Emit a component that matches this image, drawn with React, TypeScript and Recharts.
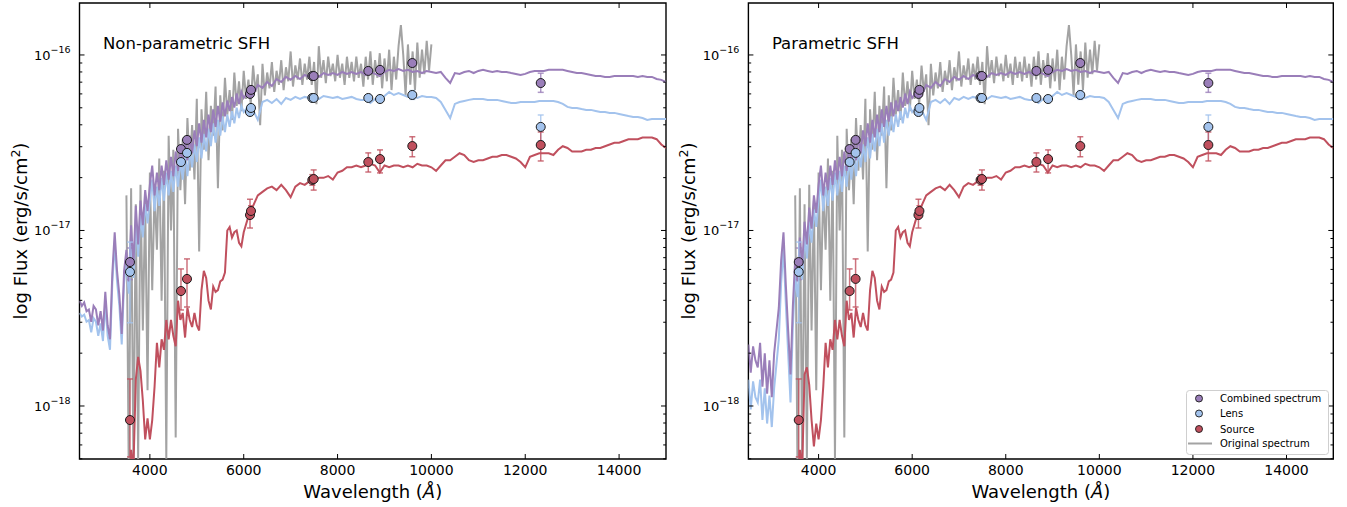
import React from "react";
import {
  ComposedChart,
  Line,
  Scatter,
  XAxis,
  YAxis,
  ErrorBar,
  ReferenceArea,
  Label,
  Legend,
} from "recharts";

const FONT = "'DejaVu Sans', sans-serif";
const COMBINED = "#9a7eb9";
const LENS = "#a3c3ed";
const SOURCE = "#c0505e";
const ORIGINAL = "#a3a3a3";

const X_MIN = 2500;
const X_MAX = 15000;
const Y_MIN = -18.302;
const Y_MAX = -15.704;
const H = 507;
const TOP = 3;
const XAXIS_H = 48;
const YAXIS_W = 70;

// model wavelength grid (Angstrom)
const uvWave = [
  2500, 2550, 2600, 2650, 2700, 2750, 2800, 2850, 2900, 2950,
  3000, 3050, 3100, 3150, 3200, 3250, 3300, 3350, 3400, 3450,
  3500, 3550, 3600, 3650, 3700, 3750, 3800, 3850, 3900, 3950,
];
const optWave = [
  4000, 4050, 4100, 4150, 4200, 4250, 4300, 4350, 4400, 4450,
  4500, 4550, 4600, 4650, 4700, 4750, 4800, 4850, 4900, 4950,
  5000, 5050, 5100, 5150, 5200, 5250, 5300, 5350, 5400, 5450,
  5500, 5550, 5600, 5650, 5700, 5750, 5800, 5850, 5900, 5950,
  6000, 6100, 6200, 6300, 6400, 6500, 6600, 6700, 6800, 6900,
  7000, 7100, 7200, 7300, 7400, 7500, 7600, 7700, 7800, 7900,
  8000, 8100, 8200, 8300, 8400, 8500, 8600, 8700, 8800, 8900,
  9000, 9100, 9200, 9300, 9400, 9500, 9600, 9700, 9800, 9900,
  10000, 10100, 10200, 10300, 10400, 10500, 10600, 10700, 10800, 10900,
  11000, 11100, 11200, 11300, 11400, 11500, 11600, 11700, 11800, 11900,
  12000, 12100, 12200, 12300, 12400, 12500, 12600, 12700, 12800, 12900,
  13000, 13100, 13200, 13300, 13400, 13500, 13600, 13700, 13800, 13900,
  14000, 14100, 14200, 14300, 14400, 14500, 14600, 14700, 14800, 14900,
  15000,
];
const obsWave = [
  3500, 3550, 3600, 3650, 3700, 3750, 3800, 3850, 3900, 3950,
  4000, 4050, 4100, 4150, 4200, 4250, 4300, 4350, 4400, 4450,
  4500, 4550, 4600, 4650, 4700, 4750, 4800, 4850, 4900, 4950,
  5000, 5050, 5100, 5150, 5200, 5250, 5300, 5350, 5400, 5450,
  5500, 5550, 5600, 5650, 5700, 5750, 5800, 5850, 5900, 5950,
  6000, 6050, 6100, 6150, 6200, 6250, 6300, 6350, 6400, 6450,
  6500, 6550, 6600, 6650, 6700, 6750, 6800, 6850, 6900, 6950,
  7000, 7050, 7100, 7150, 7200, 7250, 7300, 7350, 7400, 7450,
  7500, 7550, 7600, 7650, 7700, 7750, 7800, 7850, 7900, 7950,
  8000, 8050, 8100, 8150, 8200, 8250, 8300, 8350, 8400, 8450,
  8500, 8550, 8600, 8650, 8700, 8750, 8800, 8850, 8900, 8950,
  9000, 9050, 9100, 9150, 9200, 9250, 9300, 9350, 9400, 9450,
  9500, 9550, 9600, 9650, 9700, 9750, 9800, 9850, 9900, 9950,
  10000,
];

// log10 flux, blue end differs between the two fits
const nonParamCombinedUV = [
  -17.40, -17.43, -17.41, -17.46, -17.45, -17.52, -17.43, -17.45, -17.54, -17.46,
  -17.57, -17.35, -17.54, -17.62, -17.24, -17.01, -17.23, -17.37, -17.59, -17.23,
  -17.11, -17.29, -16.97, -17.20, -16.86, -17.08, -16.83, -16.97, -16.77, -16.89,
];
const nonParamLensUV = [
  -17.47, -17.49, -17.48, -17.52, -17.51, -17.58, -17.50, -17.52, -17.60, -17.53,
  -17.63, -17.42, -17.60, -17.68, -17.30, -17.07, -17.29, -17.43, -17.65, -17.30,
  -17.18, -17.36, -17.05, -17.27, -16.94, -17.15, -16.91, -17.04, -16.85, -16.96,
];
const nonParamSourceUV = [
  -18.6, -18.6, -18.6, -18.6, -18.6, -18.6, -18.6, -18.6, -18.6, -18.6,
  -18.6, -18.6, -18.6, -18.6, -18.6, -18.6, -18.6, -18.6, -18.6, -18.6,
  -18.6, -18.5, -18.25, -18.35, -17.85, -17.72, -17.80, -17.97, -18.19, -18.07,
];
const paramCombinedUV = [
  -17.65, -17.81, -17.66, -17.74, -17.78, -17.64, -17.89, -17.70, -17.93, -17.74,
  -17.95, -17.70, -17.57, -17.44, -17.17, -17.01, -17.31, -17.57, -17.82, -17.43,
  -17.16, -17.29, -17.04, -17.20, -16.95, -17.08, -16.87, -16.99, -16.80, -16.90,
];
const paramLensUV = [
  -17.85, -18.02, -17.86, -17.95, -17.98, -17.85, -18.08, -17.90, -18.10, -17.94,
  -18.12, -17.90, -17.76, -17.62, -17.30, -17.10, -17.42, -17.70, -17.98, -17.55,
  -17.26, -17.38, -17.12, -17.28, -17.03, -17.16, -16.95, -17.07, -16.88, -16.98,
];
const paramSourceUV = [
  -18.6, -18.6, -18.6, -18.6, -18.6, -18.6, -18.6, -18.6, -18.6, -18.6,
  -18.6, -18.6, -18.6, -18.6, -18.6, -18.6, -18.6, -18.6, -18.6, -18.6,
  -18.6, -18.5, -18.25, -18.35, -17.82, -17.78, -17.88, -18.08, -18.23, -18.10,
];

// log10 flux from 4000 A redwards (same in both fits)
const combinedOpt = [
  -16.74, -16.63, -16.80, -16.67, -16.77, -16.63, -16.74, -16.60, -16.71, -16.58,
  -16.69, -16.55, -16.66, -16.52, -16.63, -16.48, -16.60, -16.46, -16.56, -16.43,
  -16.52, -16.39, -16.50, -16.37, -16.47, -16.34, -16.44, -16.31, -16.41, -16.29,
  -16.38, -16.27, -16.35, -16.26, -16.32, -16.24, -16.30, -16.22, -16.28, -16.21,
  -16.245, -16.211, -16.228, -16.171, -16.188, -16.154, -16.177, -16.137, -16.154, -16.125,
  -16.142, -16.120, -16.137, -16.114, -16.125, -16.108, -16.125, -16.103, -16.114, -16.103,
  -16.114, -16.097, -16.108, -16.097, -16.108, -16.097, -16.114, -16.097, -16.108, -16.120,
  -16.097, -16.085, -16.091, -16.080, -16.091, -16.085, -16.097, -16.091, -16.103, -16.091,
  -16.097, -16.103, -16.097, -16.131, -16.160, -16.103, -16.108, -16.097, -16.091, -16.103,
  -16.091, -16.085, -16.091, -16.097, -16.091, -16.097, -16.097, -16.103, -16.108, -16.114,
  -16.108, -16.097, -16.091, -16.091, -16.091, -16.085, -16.085, -16.085, -16.085, -16.091,
  -16.097, -16.103, -16.103, -16.108, -16.114, -16.120, -16.120, -16.125, -16.125, -16.120,
  -16.120, -16.120, -16.120, -16.120, -16.125, -16.120, -16.125, -16.125, -16.137, -16.142,
  -16.154,
];
const lensOpt = [
  -16.83, -16.71, -16.89, -16.75, -16.86, -16.70, -16.83, -16.67, -16.80, -16.66,
  -16.78, -16.63, -16.75, -16.60, -16.71, -16.56, -16.69, -16.54, -16.64, -16.51,
  -16.61, -16.47, -16.59, -16.45, -16.55, -16.42, -16.52, -16.39, -16.50, -16.37,
  -16.46, -16.35, -16.44, -16.34, -16.41, -16.32, -16.39, -16.30, -16.36, -16.29,
  -16.325, -16.291, -16.313, -16.370, -16.268, -16.256, -16.274, -16.251, -16.279, -16.245,
  -16.256, -16.239, -16.251, -16.239, -16.245, -16.239, -16.251, -16.234, -16.239, -16.245,
  -16.239, -16.251, -16.245, -16.239, -16.251, -16.256, -16.256, -16.274, -16.251, -16.256,
  -16.234, -16.211, -16.228, -16.217, -16.228, -16.239, -16.234, -16.245, -16.234, -16.239,
  -16.239, -16.245, -16.268, -16.313, -16.359, -16.279, -16.268, -16.262, -16.256, -16.251,
  -16.251, -16.251, -16.256, -16.256, -16.256, -16.262, -16.268, -16.274, -16.274, -16.268,
  -16.268, -16.268, -16.268, -16.262, -16.262, -16.262, -16.262, -16.268, -16.279, -16.296,
  -16.302, -16.302, -16.308, -16.313, -16.313, -16.319, -16.325, -16.325, -16.330, -16.330,
  -16.336, -16.342, -16.348, -16.353, -16.353, -16.359, -16.370, -16.365, -16.365, -16.365,
  -16.365,
];
const sourceOpt = [
  -18.19, -18.08, -17.89, -17.64, -17.78, -17.62, -17.68, -17.51, -17.62, -17.51,
  -17.60, -17.66, -17.40, -17.51, -17.47, -17.61, -17.44, -17.51, -17.55, -17.47,
  -17.54, -17.57, -17.34, -17.23, -17.27, -17.40, -17.45, -17.32, -17.35, -17.34,
  -17.29, -17.28, -17.24, -17.00, -16.98, -17.04, -17.01, -17.00, -17.07, -17.09,
  -17.01, -16.92, -16.86, -16.80, -16.78, -16.76, -16.75, -16.77, -16.74, -16.77,
  -16.81, -16.75, -16.73, -16.74, -16.72, -16.72, -16.70, -16.70, -16.69, -16.71,
  -16.67, -16.66, -16.64, -16.64, -16.63, -16.64, -16.63, -16.62, -16.63, -16.67,
  -16.63, -16.64, -16.63, -16.63, -16.64, -16.63, -16.64, -16.62, -16.63, -16.63,
  -16.64, -16.66, -16.63, -16.60, -16.60, -16.58, -16.56, -16.57, -16.60, -16.61,
  -16.60, -16.60, -16.59, -16.58, -16.58, -16.57, -16.57, -16.58, -16.59, -16.61,
  -16.64, -16.58, -16.57, -16.56, -16.56, -16.56, -16.57, -16.54, -16.52, -16.53,
  -16.55, -16.55, -16.55, -16.54, -16.54, -16.53, -16.53, -16.52, -16.51, -16.50,
  -16.50, -16.49, -16.48, -16.48, -16.48, -16.47, -16.47, -16.47, -16.48, -16.51,
  -16.53,
];
const originalFlux = [
  -16.80, -18.39, -16.76, -18.36, -16.85, -18.31, -16.74, -17.57, -16.83, -17.91,
  -16.67, -17.34, -16.77, -17.11, -16.59, -17.40, -16.66, -18.30, -16.46, -17.00,
  -16.54, -18.18, -16.42, -16.77, -16.48, -16.85, -16.36, -16.66, -16.40, -16.71,
  -16.25, -17.12, -16.31, -16.54, -16.21, -16.60, -16.29, -16.46, -16.18, -16.76,
  -16.23, -16.43, -16.13, -16.34, -16.20, -16.37, -16.10, -16.29, -16.15, -16.32,
  -16.09, -16.25, -16.14, -16.28, -16.06, -16.21, -16.11, -16.40, -16.05, -16.23,
  -16.10, -16.19, -16.04, -16.21, -16.09, -16.17, -16.03, -16.20, -16.07, -16.15,
  -15.98, -16.18, -16.06, -16.14, -16.02, -16.17, -16.05, -16.14, -16.01, -16.17,
  -16.04, -16.28, -15.95, -16.13, -16.03, -16.16, -16.01, -16.12, -16.05, -16.15,
  -16.00, -16.13, -16.05, -16.17, -16.01, -16.13, -16.04, -16.15, -16.01, -16.13,
  -16.05, -16.18, -16.01, -16.14, -15.98, -16.17, -16.03, -16.13, -15.99, -16.19,
  -16.02, -16.15, -15.97, -16.20, -16.01, -16.14, -15.95, -15.83, -16.00, -16.23,
  -15.94, -16.17, -15.98, -16.20, -15.93, -16.13, -15.97, -16.11, -15.92, -16.09,
  -15.94,
];

// photometry
const photWave = [3576, 4663, 4791, 6134, 6155, 7462, 7491, 8655, 8905, 9593, 12330];
const combinedPhot = [-17.18, -16.536, -16.484, -16.222, -16.199, -16.12, -16.12, -16.091, -16.085, -16.046, -16.16];
const combinedErrLo = [0.10, 0.015, 0.015, 0.015, 0.015, 0.012, 0.012, 0.012, 0.012, 0.02, 0.053];
const combinedErrHi = [0.08, 0.015, 0.015, 0.015, 0.015, 0.012, 0.012, 0.012, 0.012, 0.02, 0.056];
const lensPhot = [-17.236, -16.61, -16.558, -16.325, -16.302, -16.245, -16.245, -16.245, -16.251, -16.228, -16.41];
const lensErrLo = [0.29, 0.015, 0.015, 0.015, 0.015, 0.015, 0.015, 0.015, 0.015, 0.025, 0.08];
const lensErrHi = [0.17, 0.015, 0.015, 0.015, 0.015, 0.015, 0.015, 0.015, 0.015, 0.025, 0.068];
const sourcePhot = [-18.08, -17.345, -17.276, -16.912, -16.889, -16.712, -16.707, -16.61, -16.593, -16.519, -16.513];
const sourceErrLo = [0.21, 0.108, 0.16, 0.074, 0.03, 0.03, 0.063, 0.057, 0.079, 0.061, 0.091];
const sourceErrHi = [0.234, 0.126, 0.114, 0.09, 0.03, 0.03, 0.052, 0.052, 0.052, 0.053, 0.074];

const xTicks = [4000, 6000, 8000, 10000, 12000, 14000];
const decades = [-19, -18, -17, -16];
const yTicks = decades
  .flatMap((n) => [1, 2, 3, 4, 5, 6, 7, 8, 9].map((k) => n + Math.log10(k)))
  .filter((t) => t >= Y_MIN && t <= Y_MAX);

const legendNames = ["Combined spectrum", "Lens", "Source", "Original spectrum"];
const legendColors = [COMBINED, LENS, SOURCE, ORIGINAL];

const pairs = (xs: number[], ys: number[]) => xs.map((wl, i) => ({ wl, v: ys[i] }));
const phot = (ys: number[], lo: number[], hi: number[]) =>
  photWave.map((wl, i) => ({ wl, v: ys[i], err: [lo[i], hi[i]] }));

const dot = (fill: string) => (p: any) => (
  <circle cx={p.cx} cy={p.cy} r={4.5} fill={fill} stroke="#1a1a1a" strokeWidth={1} />
);

const makeXTick = (plotH: number) => (p: any) => {
  const edge = p.y - 4;
  return (
    <g>
      <line x1={p.x} x2={p.x} y1={edge} y2={edge - 5} stroke="#000" />
      <line x1={p.x} x2={p.x} y1={edge - plotH} y2={edge - plotH + 5} stroke="#000" />
      <text x={p.x} y={edge + 16} textAnchor="middle" fontSize={14} fontFamily={FONT} fill="#000">
        {p.payload.value}
      </text>
    </g>
  );
};

const makeYTick = (plotW: number) => (p: any) => {
  const v = p.payload.value;
  const edge = p.x + 9;
  const major = Math.abs(v - Math.round(v)) < 1e-6;
  const len = major ? 5 : 2.8;
  return (
    <g>
      <line x1={edge} x2={edge + len} y1={p.y} y2={p.y} stroke="#000" />
      <line x1={edge + plotW} x2={edge + plotW - len} y1={p.y} y2={p.y} stroke="#000" />
      {major && (
        <text x={p.x} y={p.y + 5} textAnchor="end" fontSize={13} fontFamily={FONT} fill="#000">
          10
          <tspan dy={-7} fontSize={9.5}>
            {"\u2212" + Math.abs(Math.round(v))}
          </tspan>
        </text>
      )}
    </g>
  );
};

const renderXLabel = (p: any) => {
  const vb = p.viewBox;
  return (
    <text x={vb.x + vb.width / 2} y={vb.y + 39} textAnchor="middle" fontSize={18} fontFamily={FONT} fill="#000">
      Wavelength (<tspan fontStyle="italic">Å</tspan>)
    </text>
  );
};

const renderYLabel = (p: any) => {
  const vb = p.viewBox;
  const x = vb.x + vb.width - 53;
  const y = TOP + (H - TOP - XAXIS_H) / 2;
  return (
    <text x={x} y={y} transform={`rotate(-90 ${x} ${y})`} textAnchor="middle" fontSize={18} fontFamily={FONT} fill="#000">
      log Flux (erg/s/cm<tspan dy={-7} fontSize={12.5}>2</tspan>
      <tspan dy={7}>)</tspan>
    </text>
  );
};

const titleLabel = (title: string) => (p: any) => {
  const vb = p.viewBox;
  return (
    <text x={vb.x + 23.5} y={vb.y + 46} fontSize={16.5} fontFamily={FONT} fill="#000">
      {title}
    </text>
  );
};

const LegendBox = () => (
  <svg width={143} height={65} style={{ display: "block" }}>
    <rect x={0.5} y={0.5} width={142} height={64} rx={3} fill="#fff" fillOpacity={0.85} stroke="#cfcfcf" />
    {legendNames.map((name, i) => {
      const cy = [8.5, 23.5, 39, 53.5][i];
      return (
        <g key={name}>
          {i < 3 ? (
            <circle cx={13} cy={cy} r={3.5} fill={legendColors[i]} stroke="#1a1a1a" strokeWidth={0.9} />
          ) : (
            <line x1={2} x2={26} y1={cy} y2={cy} stroke={legendColors[i]} strokeWidth={2} />
          )}
          <text x={34} y={cy + 3.6} fontSize={10} fontFamily={FONT} fill="#000">
            {name}
          </text>
        </g>
      );
    })}
  </svg>
);

type PanelProps = {
  title: string;
  combinedUV: number[];
  lensUV: number[];
  sourceUV: number[];
  width: number;
  left: number;
  right: number;
  legend?: boolean;
};

function Panel({ title, combinedUV, lensUV, sourceUV, width, left, right, legend }: PanelProps) {
  const plotW = width - left - right - YAXIS_W;
  const plotH = H - TOP - XAXIS_H;
  const wave = [...uvWave, ...optWave];
  const combined = pairs(wave, [...combinedUV, ...combinedOpt]);
  const lens = pairs(wave, [...lensUV, ...lensOpt]);
  const source = pairs(wave, [...sourceUV, ...sourceOpt]);
  const original = pairs(obsWave, originalFlux);

  return (
    <ComposedChart width={width} height={H} margin={{ top: TOP, right, bottom: 0, left }}>
      <XAxis
        type="number"
        dataKey="wl"
        domain={[X_MIN, X_MAX]}
        allowDataOverflow
        ticks={xTicks}
        interval={0}
        tickSize={0}
        tickMargin={4}
        axisLine={false}
        height={XAXIS_H}
        tick={makeXTick(plotH)}
      >
        <Label content={renderXLabel} />
      </XAxis>
      <YAxis
        type="number"
        dataKey="v"
        domain={[Y_MIN, Y_MAX]}
        allowDataOverflow
        ticks={yTicks}
        interval={0}
        tickSize={0}
        tickMargin={9}
        axisLine={false}
        width={YAXIS_W}
        tick={makeYTick(plotW)}
      >
        <Label content={renderYLabel} />
      </YAxis>

      <Line data={original} dataKey="v" stroke={ORIGINAL} strokeWidth={2} dot={false} isAnimationActive={false} />
      <Line data={lens} dataKey="v" stroke={LENS} strokeWidth={2} dot={false} isAnimationActive={false} />
      <Line data={combined} dataKey="v" stroke={COMBINED} strokeWidth={2} dot={false} isAnimationActive={false} />
      <Line data={source} dataKey="v" stroke={SOURCE} strokeWidth={2} dot={false} isAnimationActive={false} />

      <Scatter data={phot(combinedPhot, combinedErrLo, combinedErrHi)} dataKey="v" shape={dot(COMBINED)} isAnimationActive={false}>
        <ErrorBar dataKey="err" direction="y" width={3} stroke={COMBINED} strokeWidth={1.5} strokeOpacity={0.8} />
      </Scatter>
      <Scatter data={phot(lensPhot, lensErrLo, lensErrHi)} dataKey="v" shape={dot(LENS)} isAnimationActive={false}>
        <ErrorBar dataKey="err" direction="y" width={3} stroke={LENS} strokeWidth={1.5} strokeOpacity={0.8} />
      </Scatter>
      <Scatter data={phot(sourcePhot, sourceErrLo, sourceErrHi)} dataKey="v" shape={dot(SOURCE)} isAnimationActive={false}>
        <ErrorBar dataKey="err" direction="y" width={3} stroke={SOURCE} strokeWidth={1.5} strokeOpacity={0.8} />
      </Scatter>

      <ReferenceArea
        x1={X_MIN}
        x2={X_MAX}
        y1={Y_MIN}
        y2={Y_MAX}
        fill="none"
        stroke="#000"
        strokeWidth={1.4}
        ifOverflow="visible"
      >
        <Label content={titleLabel(title)} />
      </ReferenceArea>

      {legend && (
        <Legend
          layout="vertical"
          align="center"
          verticalAlign="middle"
          content={() => <LegendBox />}
          wrapperStyle={{ left: 514, top: 390, width: 143, height: 65 }}
        />
      )}
    </ComposedChart>
  );
}

export default function App() {
  return (
    <div style={{ position: "absolute", left: 0, top: 0, width: 1347, height: 507, display: "flex", background: "#fff" }}>
      <Panel
        title="Non-parametric SFH"
        combinedUV={nonParamCombinedUV}
        lensUV={nonParamLensUV}
        sourceUV={nonParamSourceUV}
        width={672}
        left={9.5}
        right={6}
      />
      <Panel
        title="Parametric SFH"
        combinedUV={paramCombinedUV}
        lensUV={paramLensUV}
        sourceUV={paramSourceUV}
        width={675}
        left={6.4}
        right={13.7}
        legend
      />
    </div>
  );
}
